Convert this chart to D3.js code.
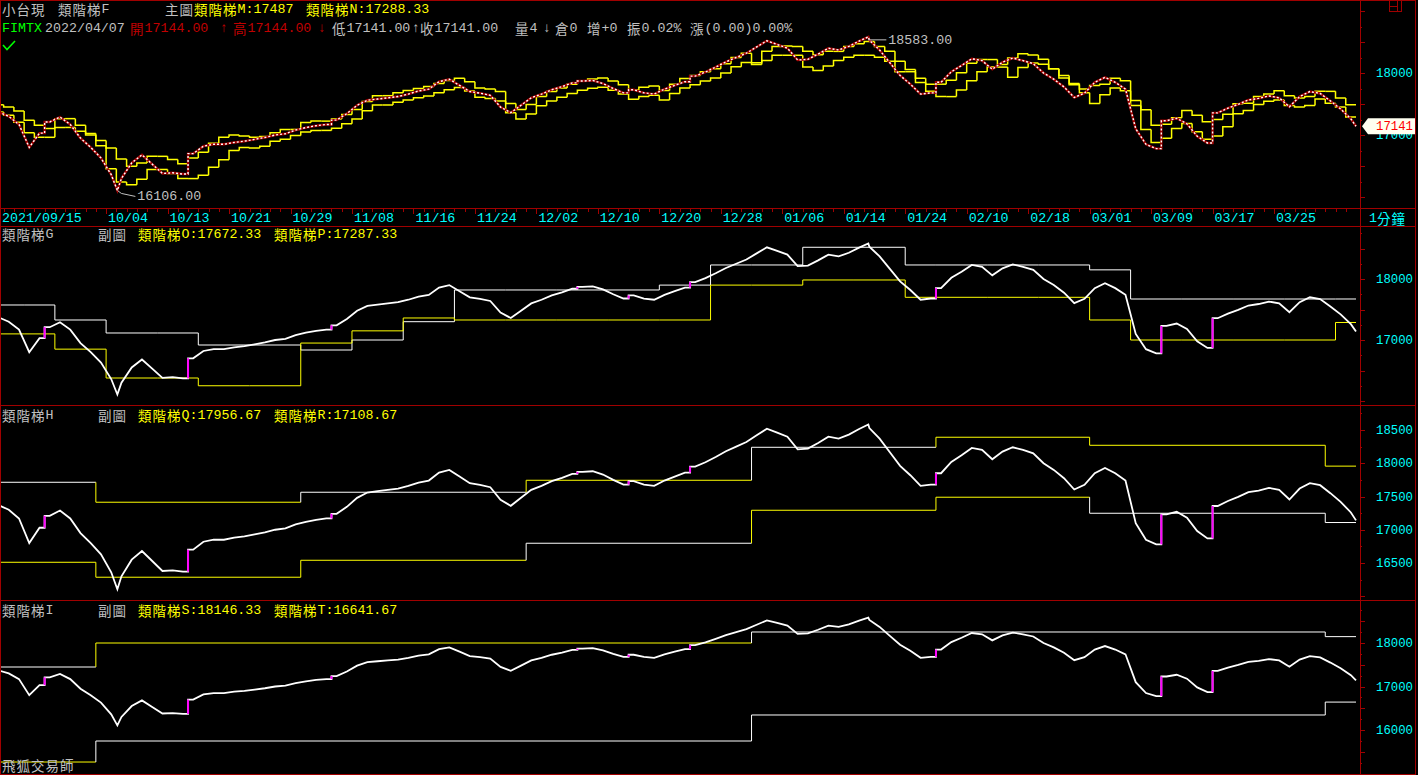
<!DOCTYPE html>
<html><head><meta charset="utf-8">
<script src="https://cdn.jsdelivr.net/npm/d3@7/dist/d3.min.js"></script>
<style>
html,body{margin:0;padding:0;background:#000;overflow:hidden;}
svg{display:block;}
</style></head><body>
<svg id="c" width="1418" height="775"></svg>
<script>
// ---------------- DATA ----------------
const tradingDays = ["09/15","09/16","09/17","09/22","09/23","09/24","09/27","09/28","09/29","09/30",
"10/01","10/04","10/05","10/06","10/07","10/08","10/12","10/13","10/14","10/15","10/18","10/19","10/20","10/21","10/22","10/25","10/26","10/27","10/28","10/29",
"11/01","11/02","11/03","11/04","11/05","11/08","11/09","11/10","11/11","11/12","11/15","11/16","11/17","11/18","11/19","11/22","11/23","11/24","11/25","11/26","11/29","11/30",
"12/01","12/02","12/03","12/06","12/07","12/08","12/09","12/10","12/13","12/14","12/15","12/16","12/17","12/20","12/21","12/22","12/23","12/24","12/27","12/28","12/29","12/30",
"01/03","01/04","01/05","01/06","01/07","01/10","01/11","01/12","01/13","01/14","01/17","01/18","01/19","01/20","01/21","01/24","01/25","01/26",
"02/07","02/08","02/09","02/10","02/11","02/14","02/15","02/16","02/17","02/18","02/21","02/22","02/23","02/24","02/25",
"03/01","03/02","03/03","03/04","03/07","03/08","03/09","03/10","03/11","03/14","03/15","03/16","03/17","03/18","03/21","03/22","03/23","03/24","03/25",
"03/28","03/29","03/30","03/31","04/01","04/06","04/07"];

const axisLabelDays = ["09/15","10/04","10/13","10/21","10/29","11/08","11/16","11/24","12/02","12/10","12/20","12/28","01/06","01/14","01/24","02/10","02/18","03/01","03/09","03/17","03/25"];
const axisLabelText = ["2021/09/15","10/04","10/13","10/21","10/29","11/08","11/16","11/24","12/02","12/10","12/20","12/28","01/06","01/14","01/24","02/10","02/18","03/01","03/09","03/17","03/25"];

// price, one reading per trading day (mid-day)
const price = [17361,17300,17170,16800,17030,17210,17290,17170,16950,16800,
16630,16360,16300,16550,16680,16530,16380,16390,16370,16700,
16820,16850,16850,16880,16900,16930,16960,17000,17020,17080,
17120,17150,17170,17240,17345,17480,17560,17580,17600,17620,
17660,17710,17740,17860,17900,17800,17700,17675,17640,17450,
17360,17480,17600,17660,17730,17780,17840,17870,17880,17830,
17750,17680,17730,17680,17660,17740,17800,17860,17950,18015,
18095,18180,18250,18320,18420,18520,18460,18400,18210,18220,
18305,18400,18370,18430,18515,18530,18370,18165,17960,17820,
17660,17680,17850,18020,18120,18230,18200,18060,18175,18240,
18200,18150,18000,17900,17775,17605,17675,17850,17930,17850,
17740,17100,16850,16780,17230,17270,17180,16980,16870,17357,
17432,17495,17565,17590,17630,17600,17455,17620,17700,17670,
17550,17420,17260];
const lastClose = 17141;
const highMark = {day: "01/18", offset: 0.4, value: 18583};
const lowMark = {day: "10/05", offset: 0.1, value: 16106};
// days opening with a gap (drawn magenta in the sub charts)
const gapDays = ["09/24","10/15","11/04","12/08","12/15","12/23","02/07","03/10","03/17"];

// main panel daily ladders (M, N), one value per trading day
const ladderM = [17487,17450,17386,17238,17159,17106,17264,17264,17159,17026,16910,16789,16614,16497,16550,16656,16656,16603,16535,
16630,16720,16868,16963,17000,16984,16963,16974,17037,17090,17090,
17200,17224,17224,17260,17330,17410,17540,17634,17634,17680,17716,17750,17781,17830,17880,17915,17860,17760,17740,17700,17510,17410,17490,17620,17700,17760,17820,17870,17905,17920,17870,17810,17725,17770,17790,17716,17820,17910,17960,18020,18070,18150,18250,18320,
18164,18349,18429,18434,18429,18349,18296,18349,18349,18429,18471,18508,18429,18349,18190,18058,17915,17820,17820,17884,18005,18159,18217,18217,18138,
18240,18310,18290,18220,18070,17960,17830,17740,17800,
17820,17915,17873,17476,17407,17159,17175,17280,17397,17317,17212,17249,17333,17503,17513,17619,17661,17714,17635,17598,17619,17704,17704,17598,17487];
const ladderN = [17370,17317,17206,17037,16963,16963,17122,17122,17060,17000,16825,16455,16243,16196,16286,16444,16444,16381,16297,
16297,16350,16480,16600,16750,16800,16790,16820,16900,16930,16990,
17050,17074,17074,17110,17180,17260,17390,17484,17484,17530,17566,17600,17631,17680,17730,17765,17710,17610,17590,17550,17360,17260,17340,17470,17550,17610,17670,17720,17755,17770,17720,17660,17575,17620,17640,17566,17670,17760,17810,17870,17920,18000,18100,18170,
18138,18201,18286,18286,18286,18095,18042,18111,18201,18254,18286,18286,18254,18190,18021,18021,17847,17704,17619,17619,17725,17873,18021,18095,18095,
17930,18090,18160,18140,18070,17920,17810,17680,17510,
17651,17757,17714,17556,17090,16878,16947,17106,17185,17053,16931,16984,17132,17344,17397,17492,17545,17566,17476,17450,17476,17582,17513,17450,17288.33];

// sub panel G: weekly ladders
const weekStarts = ["09/15","09/22","09/27","10/04","10/12","10/18","10/25","11/01","11/08","11/15","11/22","11/29","12/06","12/13","12/20","12/27",
"01/03","01/10","01/17","01/24","02/07","02/14","02/21","03/01","03/07","03/14","03/21","03/28","04/06"];
const ladderO = [17574,17574,17328,17115,17115,16918,16918,16836,17000,17300,17820,17820,17820,17820,17900,18230,18230,18520,18520,18230,18230,18230,18230,18150,17672,17672,17672,17672,17672.33];
const ladderP = [17100,17100,16850,16377,16377,16250,16250,16950,17150,17361,17328,17328,17328,17328,17328,17900,17900,17984,17984,17700,17700,17700,17700,17328,17000,17000,17000,17000,17287.33];
const stateO = ["w","w","w","w","w","w","w","w","w","w","w","w","w","w","w","w","w","w","w","w","w","w","w","w","w","w","w","w","w"];
const stateP = ["y","y","y","y","y","y","y","y","y","y","y","y","y","y","y","y","y","y","y","y","y","y","y","y","y","y","y","y","y"];

// sub panel H: monthly ladders
const monthStarts = ["09/15","10/01","11/01","12/01","01/03","02/07","03/01","04/01"];
const ladderQ = [17714,17414,17564,17744,18240,18391,18270,17956.67];
const ladderR = [16511,16286,16541,16797,17293,17489,17248,17108.67];
const stateQ = ["w","y","w","y","w","y","y","y"];
const stateR = ["y","y","y","w","y","y","w","w"];

// sub panel I: quarterly ladders
const quarterStarts = ["09/15","10/01","01/03","04/01"];
const ladderS = [17448,18000,18253,18146.33];
const ladderT = [15264,15747,16345,16641.67];
const stateS = ["w","y","w","w"];
const stateT = ["y","w","w","w"];

const mainTicks = [17000,18000];
const gTicks = [17000,18000];
const hTicks = [16500,17000,17500,18000,18500];
const iTicks = [16000,17000,18000];

// ---------------- DRAW ----------------
const W = 1418, H = 775;
const RED = "#a00000", GRAY = "#c0c0c0", CYAN = "#00ffff", YEL = "#ffff00", WHITE = "#ffffff", MAG = "#ff00ff";
const svg = d3.select("#c");
const dayIdx = d => tradingDays.indexOf(d);
const x = d3.scaleLinear().domain([0, tradingDays.length]).range([-6.6, 1356]);
const stateColor = d3.scaleOrdinal().domain(["y","w"]).range([YEL, WHITE]);

const panels = [
  {key:"main", top:1, bottom:207, y:d3.scaleLinear().domain([17000,18000]).range([135,73]), ticks:mainTicks},
  {key:"G", top:227, bottom:404, y:d3.scaleLinear().domain([17000,18000]).range([340,279]), ticks:gTicks},
  {key:"H", top:406, bottom:599, y:d3.scaleLinear().domain([16500,18500]).range([563,430]), ticks:hTicks},
  {key:"I", top:601, bottom:773, y:d3.scaleLinear().domain([16000,18000]).range([730,643]), ticks:iTicks}
];
const defs = svg.append("defs");
panels.forEach(p => {
  defs.append("clipPath").attr("id","clip-"+p.key).append("rect")
    .attr("x",1).attr("y",p.top).attr("width",1358).attr("height",p.bottom-p.top);
});

svg.append("rect").attr("width",W).attr("height",H).attr("fill","#000");

const CJKRE = /[\u2E80-\u9FFF\uF900-\uFAFF\uFF01-\uFF60]/;
function addText(parent, tx, ty, str, color, anchor) {
  const t = parent.append("text").attr("x",tx).attr("y",ty).attr("fill",color)
    .attr("dominant-baseline","central").attr("text-anchor",anchor||"start")
    .style("font-family","'Liberation Mono','DejaVu Sans Mono',monospace").style("font-size","13.3px");
  const runs = str.match(/[\u2E80-\u9FFF\uF900-\uFAFF\uFF01-\uFF60]+|[^\u2E80-\u9FFF\uF900-\uFAFF\uFF01-\uFF60]+/g) || [];
  runs.forEach(r => {
    const ts = t.append("tspan").text(r);
    if (CJKRE.test(r)) ts.style("font-family","'Noto Sans CJK TC','Noto Sans CJK SC',sans-serif").style("font-size","13.5px").style("letter-spacing","1px");
  });
  return t;
}

// build price polyline (day units), with gaps as vertical jumps at the day boundary
const gapIdx = gapDays.map(dayIdx);
const pricePts = [[0.65, price[0]]];
price.forEach((v,i) => {
  if (gapIdx.includes(i)) { pricePts.push([i, price[i-1]]); pricePts.push([i, v]); }
  pricePts.push([i+0.5, v]);
});
[highMark, lowMark].forEach(m => pricePts.push([dayIdx(m.day)+m.offset, m.value]));
pricePts.push([tradingDays.length, lastClose]);
pricePts.sort((a,b) => a[0]-b[0]);

panels.forEach(p => {
  const g = svg.append("g").attr("clip-path","url(#clip-"+p.key+")");
  const line = d3.line().x(d => x(d[0])).y(d => p.y(d[1]));
  function ladder(starts, vals, states, color, width) {
    const idx = starts.map(dayIdx);
    idx.forEach((s,k) => {
      const e = k < idx.length-1 ? idx[k+1] : tradingDays.length;
      const prev = k > 0 ? vals[k-1] : vals[k];
      const path = d3.path();
      path.moveTo(x(s), p.y(prev));
      path.lineTo(x(s), p.y(vals[k]));
      path.lineTo(x(e), p.y(vals[k]));
      g.append("path").attr("d", path.toString()).attr("fill","none")
        .attr("stroke", color || stateColor(states[k])).attr("stroke-width", width||1);
    });
  }
  if (p.key === "main") {
    ladder(tradingDays.slice(0,ladderM.length), ladderM, null, YEL, 1.5);
    ladder(tradingDays.slice(0,ladderN.length), ladderN, null, YEL, 1.5);
    g.append("path").attr("d", line(pricePts)).attr("fill","none").attr("stroke","#a00000").attr("stroke-width",2.4);
    g.append("path").attr("d", line(pricePts)).attr("fill","none").attr("stroke",WHITE).attr("stroke-width",1.4).attr("stroke-dasharray","2,2");
  } else {
    if (p.key === "G") { ladder(weekStarts, ladderO, stateO); ladder(weekStarts, ladderP, stateP); }
    if (p.key === "H") { ladder(monthStarts, ladderQ, stateQ); ladder(monthStarts, ladderR, stateR); }
    if (p.key === "I") { ladder(quarterStarts, ladderS, stateS); ladder(quarterStarts, ladderT, stateT); }
    g.append("path").attr("d", line(pricePts)).attr("fill","none").attr("stroke",WHITE).attr("stroke-width",1.8);
    gapIdx.forEach(i => {
      g.append("line").attr("x1",x(i)).attr("x2",x(i)).attr("y1",p.y(price[i-1])).attr("y2",p.y(price[i]))
        .attr("stroke",MAG).attr("stroke-width",2);
    });
  }
  const ax = svg.append("g");
  const lo = p.y.invert(p.bottom), hi = p.y.invert(p.top);
  d3.range(Math.ceil(lo/250)*250, hi, 250).forEach(v => {
    const yy = Math.round(p.y(v)) + 0.5;
    const len = v % 500 === 0 ? 5 : 2;
    ax.append("line").attr("x1",1360).attr("x2",1360+len).attr("y1",yy).attr("y2",yy).attr("stroke",RED);
  });
  p.ticks.forEach(v => {
    addText(ax, 1376, p.y(v), String(v), CYAN).attr("textLength",37).attr("lengthAdjust","spacingAndGlyphs");
  });
});

const frame = svg.append("g").attr("stroke",RED).attr("stroke-width",1).attr("fill","none");
frame.append("rect").attr("x",0.5).attr("y",0.5).attr("width",W-3).attr("height",H-1);
[208,226,405,600].forEach(yy => frame.append("line").attr("x1",0).attr("x2",W-2).attr("y1",yy+0.5).attr("y2",yy+0.5));
frame.append("line").attr("x1",1360.5).attr("x2",1360.5).attr("y1",0).attr("y2",H);

const xa = svg.append("g");
tradingDays.forEach((d,i) => {
  const xx = Math.round(x(i)) + 0.5;
  if (xx < 2) return;
  xa.append("line").attr("x1",xx).attr("x2",xx).attr("y1",209).attr("y2",axisLabelDays.includes(d) ? 214 : 212).attr("stroke",RED);
});
axisLabelDays.forEach((d,k) => {
  const xx = Math.max(2, x(dayIdx(d)) + 2);
  addText(xa, xx, 217.5, axisLabelText[k], CYAN);
});
addText(xa, 1369, 217.5, "1分鐘", CYAN);

const hd = svg.append("g");
[["小台現",2,GRAY],["類階梯F",58,GRAY],["主圖",165,GRAY],["類階梯M:17487",194,YEL],["類階梯N:17288.33",306,YEL]]
  .forEach(c => addText(hd, c[1], 9, c[0], c[2]));
[["FIMTX",2,"#00ff00"],["2022/04/07",45,GRAY],["開17144.00",130,"#c00000"],["↑",220,"#c00000"],["高17144.00",233,"#c00000"],["↓",318,"#c00000"],
 ["低17141.00",332,GRAY],["↑收17141.00",412,GRAY],["量4",515,GRAY],["↓",543,GRAY],["倉0",555,GRAY],["增+0",587,GRAY],["振0.02%",627,GRAY],["漲(0.00)0.00%",690,GRAY]]
  .forEach(c => addText(hd, c[1], 27.5, c[0], c[2]));
hd.append("path").attr("d","M3,45 L7,49.5 L15,41").attr("fill","none").attr("stroke","#00ff00").attr("stroke-width",1.6);

[["類階梯G",233.5,"類階梯O:17672.33","類階梯P:17287.33"],["類階梯H",414.5,"類階梯Q:17956.67","類階梯R:17108.67"],["類階梯I",609.5,"類階梯S:18146.33","類階梯T:16641.67"]]
  .forEach(r => { addText(hd,2,r[1],r[0],GRAY); addText(hd,98,r[1],"副圖",GRAY); addText(hd,138,r[1],r[2],YEL); addText(hd,274,r[1],r[3],YEL); });
addText(hd, 2, 765, "飛狐交易師", GRAY);

const ym = panels[0].y;
const hx = x(dayIdx(highMark.day)+highMark.offset), hy = ym(highMark.value) + 3;
hd.append("path").attr("d",`M${hx},${hy} L${hx+18},${hy}`).attr("stroke",GRAY).attr("fill","none");
addText(hd, hx+20, hy, highMark.value.toFixed(2), GRAY);
const lx = x(dayIdx(lowMark.day)+lowMark.offset), ly = ym(lowMark.value);
hd.append("path").attr("d",`M${lx},${ly} L${lx+4},${ly+3} L${lx+18},${ly+6}`).attr("stroke",GRAY).attr("fill","none");
addText(hd, lx+20, ly+6, lowMark.value.toFixed(2), GRAY);

const my = ym(lastClose);
hd.append("path").attr("d",`M1362,${my} L1368,${my-8} L1415,${my-8} L1415,${my+8} L1368,${my+8} Z`).attr("fill","#fffff0");
addText(hd, 1376, my, String(lastClose), "#ff0000").attr("textLength",37).attr("lengthAdjust","spacingAndGlyphs");

const ic = svg.append("g").attr("stroke",RED).attr("fill","none");
ic.append("rect").attr("x",1389.5).attr("y",0.5).attr("width",12).attr("height",11);
ic.append("line").attr("x1",1389.5).attr("x2",1397.5).attr("y1",6.5).attr("y2",6.5);
ic.append("line").attr("x1",1397.5).attr("x2",1397.5).attr("y1",0.5).attr("y2",11.5);
</script>
</body></html>
